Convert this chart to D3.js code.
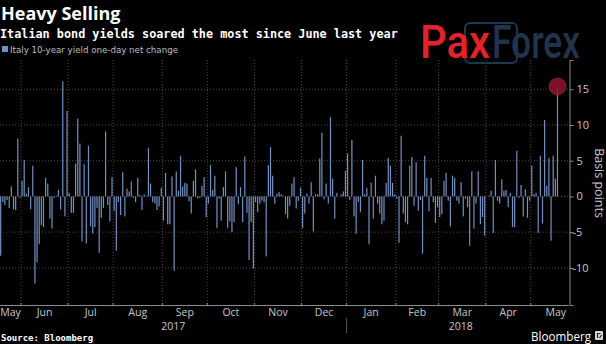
<!DOCTYPE html>
<html><head><meta charset="utf-8">
<script src="https://cdn.jsdelivr.net/npm/d3@7"></script>
<style>
html,body{margin:0;padding:0;background:#000;}
svg{display:block;}
</style></head><body>
<svg id="c" width="606" height="344"></svg>
<script>
// ---- data ----
const startDate = [2017, 4, 18]; // first trading day shown (May 18, 2017), one bar per weekday
const values = [
-8.3,-0.8,-1.2,-0.5,-1.6,1.4,-1.8,-1.9,8.1,-0.2,
2.2,5.1,0.4,1.3,-1.8,4.3,-12.2,-9.2,-6.7,-4.0,
-4.3,2.6,1.8,-3.1,-4.5,-0.2,0.1,0.9,-1.8,16.1,
-2.8,12.0,0.5,-2.3,-2.3,4.6,10.9,7.4,-6.3,4.5,
-6.6,7.1,-4.2,-5.2,-4.3,-1.6,-7.9,-3.0,-1.6,9.1,
-1.2,-3.5,2.7,-2.0,-7.6,-0.8,-2.6,3.4,-2.8,1.1,
0.7,2.1,-0.2,-0.8,2.6,0.2,-1.9,0.3,0.1,6.8,
1.8,-0.8,-1.0,-1.9,-1.4,1.2,-3.4,3.3,-3.9,-3.9,
2.8,-10.4,3.5,0.8,5.7,1.4,1.9,1.8,-0.7,-2.4,
2.2,3.8,-0.3,-0.2,1.5,2.7,-2.9,-1.0,4.4,0.9,
2.9,-4.4,-0.3,-3.4,1.3,3.5,-4.4,-3.5,-5.0,-3.6,
4.1,-1.1,1.3,-3.6,5.6,-2.3,-8.9,-3.6,-10.1,-0.8,
-2.2,-1.0,-0.6,-0.8,-8.4,4.4,6.9,2.9,-1.0,0.4,
0.6,0.3,0.1,-2.5,-3.1,-1.3,1.8,2.7,-1.7,-0.6,
1.2,-4.4,-2.4,0.4,-1.0,2.0,-4.9,0.3,0.3,5.3,
8.9,-0.4,1.8,-1.0,11.1,2.5,-3.1,0.5,0,0.3,
0.7,3.6,6.0,-0.5,7.9,-2.8,-5.2,-0.8,-2.2,5.1,
0.3,1.2,-6.7,1.9,-3.1,2.9,-1.0,-2.4,-3.9,-3.4,
1.9,5.4,4.3,1.9,0.3,-0.3,-6.5,8.5,-2.4,-3.6,
-3.9,4.3,5.5,-1.3,4.8,-2.0,-0.5,-8.0,5.7,2.6,
-2.1,2.6,-0.8,-3.7,-1.5,-2.9,-2.5,2.2,3.3,-0.6,
-4.2,2.9,2.6,-0.6,-1.0,2.0,-2.8,-0.3,-1.5,-6.9,
3.5,-4.5,-1.0,3.5,-3.9,-2.9,-5.5,0,0.1,0.8,
-5.1,5.1,-0.6,-1.0,2.4,0.8,0.9,-1.5,0.5,-4.3,
-4.3,6.4,-0.2,1.6,-2.8,1.0,-3.0,-0.6,4.3,0.3,
0.5,-5.1,5.7,-3.8,10.7,1.5,5.4,-6.2,5.7,2.5,
15.4
];
const monthLabels = ["May","Jun","Jul","Aug","Sep","Oct","Nov","Dec","Jan","Feb","Mar","Apr","May"];
const yearLabels = ["2017","2018"];
const yTicks = [15,10,5,0,-5,-10];
const titleText = "Heavy Selling";
const subtitleText = "Italian bond yields soared the most since June last year";
const legendText = "Italy 10-year yield one-day net change";
const yTitle = "Basis points";
const sourceText = "Source: Bloomberg";

// ---- dates: one per weekday ----
const dates = [];
{
  const d = new Date(startDate[0], startDate[1], startDate[2]);
  while (dates.length < values.length) {
    const wd = d.getDay();
    if (wd !== 0 && wd !== 6) dates.push(new Date(d));
    d.setDate(d.getDate() + 1);
  }
}

const svg = d3.select("#c");
const plot = {left: 0, right: 569, top: 60, bottom: 305};

const x = d3.scaleLinear().domain([-0.306, 265.38]).range([plot.left, plot.right]);
const y = d3.scaleLinear().domain([-15.2, 19.1]).range([plot.bottom, plot.top]);

const BAR = "#7390c0";
const GRID = "#4a4a4a";
const AXIS = "#8c8c8c";
const TXT = "#c8c8c8";

// month boundaries
const bounds = [];
for (let i = 1; i < dates.length; i++) {
  if (dates[i].getMonth() !== dates[i-1].getMonth()) bounds.push(i - 0.5);
}
const yearBound = bounds[monthLabels.indexOf("Jan") - 1];

// grid
const g = svg.append("g");
g.selectAll("line.hg").data(yTicks).join("line")
  .attr("x1", plot.left).attr("x2", plot.right)
  .attr("y1", d => y(d)).attr("y2", d => y(d))
  .attr("stroke", GRID).attr("stroke-width", 1).attr("stroke-dasharray", "1,2");
g.selectAll("line.vg").data(bounds).join("line")
  .attr("x1", d => x(d)).attr("x2", d => x(d))
  .attr("y1", plot.top).attr("y2", plot.bottom)
  .attr("stroke", GRID).attr("stroke-width", 1).attr("stroke-dasharray", "1,2");

// bars
svg.append("g").selectAll("rect").data(values).join("rect")
  .attr("x", (d, i) => x(i) - 0.6)
  .attr("width", 1.2)
  .attr("y", d => y(Math.max(0, d)))
  .attr("height", d => Math.abs(y(d) - y(0)))
  .attr("fill", BAR);

// highlight circle on last bar
const li = values.length - 1;
svg.append("circle")
  .attr("cx", x(li)).attr("cy", y(values[li]))
  .attr("r", 8.3)
  .attr("fill", "#8a1329").attr("fill-opacity", 0.9)
  .attr("stroke", "#a8213a").attr("stroke-width", 0.8);

// x axis
svg.append("line").attr("x1", plot.left).attr("x2", plot.right)
  .attr("y1", plot.bottom + 0.5).attr("y2", plot.bottom + 0.5)
  .attr("stroke", AXIS).attr("stroke-width", 1);
svg.append("g").selectAll("line").data(bounds).join("line")
  .attr("x1", d => x(d)).attr("x2", d => x(d))
  .attr("y1", plot.bottom - 2).attr("y2", plot.bottom + 1)
  .attr("stroke", AXIS);

const edges = [plot.left, ...bounds.map(b => x(b)), plot.right];
svg.append("g").selectAll("text").data(monthLabels).join("text")
  .attr("x", (d, i) => i === monthLabels.length - 1 ? 566 : (edges[i] + edges[i+1]) / 2)
  .attr("y", 316)
  .attr("text-anchor", (d, i) => i === monthLabels.length - 1 ? "end" : "middle")
  .attr("font-family", "'Open Sans', 'DejaVu Sans', sans-serif")
  .attr("font-size", 10.5).attr("fill", TXT)
  .text(d => d);

// year labels + separator
const yb = x(yearBound);
svg.append("g").selectAll("text").data(yearLabels).join("text")
  .attr("x", (d, i) => i === 0 ? (plot.left + yb) / 2 : (yb + plot.right) / 2 + 3)
  .attr("y", 330)
  .attr("text-anchor", "middle")
  .attr("font-family", "'Open Sans', 'DejaVu Sans', sans-serif")
  .attr("font-size", 10.5).attr("fill", TXT)
  .text(d => d);
svg.append("line").attr("x1", yb).attr("x2", yb).attr("y1", 318).attr("y2", 333)
  .attr("stroke", "#555").attr("stroke-width", 1);

// y axis (right)
const yAxis = d3.axisRight(y).tickValues(yTicks).tickSize(4).tickPadding(3)
  .tickFormat(d => String(d));
const ya = svg.append("g").attr("transform", `translate(${plot.right + 0.5},0)`).call(yAxis);
ya.select(".domain").attr("stroke", AXIS);
ya.selectAll(".tick line").attr("stroke", AXIS);
ya.selectAll(".tick text")
  .attr("fill", TXT)
  .attr("font-family", "'Open Sans', 'DejaVu Sans', sans-serif")
  .attr("font-size", 11)
  .attr("dx", d => d < 0 ? -4 : 0);

svg.append("text")
  .attr("transform", `translate(594.5,183) rotate(90)`)
  .attr("text-anchor", "middle")
  .attr("font-family", "'Open Sans', 'DejaVu Sans', sans-serif")
  .attr("font-size", 12.5).attr("fill", TXT)
  .text(yTitle);

// titles
svg.append("text").attr("x", 1).attr("y", 20)
  .attr("font-family", "'Open Sans', 'DejaVu Sans', sans-serif")
  .attr("font-weight", 700).attr("font-size", 18).attr("fill", "#fff")
  .text(titleText);
svg.append("text").attr("x", 0).attr("y", 38)
  .attr("font-family", "'DejaVu Sans Mono', 'Liberation Mono', monospace")
  .attr("font-weight", 700).attr("font-size", 11.8).attr("fill", "#fff")
  .text(subtitleText);

// legend
svg.append("rect").attr("x", 2).attr("y", 46).attr("width", 6).attr("height", 6).attr("fill", BAR);
svg.append("text").attr("x", 10).attr("y", 53)
  .attr("font-family", "'DejaVu Sans Condensed', 'Liberation Sans Narrow', 'Roboto', sans-serif")
  .attr("font-size", 9).attr("fill", "#bdbdbd")
  .attr("textLength", 168).attr("lengthAdjust", "spacingAndGlyphs")
  .text(legendText);

// PaxForex watermark
const logo = svg.append("g");
logo.append("rect").attr("x", 465).attr("y", 23).attr("width", 52).attr("height", 40).attr("rx", 5)
  .attr("fill", "none").attr("stroke", "#1f3550").attr("stroke-width", 2);
logo.append("text").attr("x", 420).attr("y", 58)
  .attr("font-family", "Roboto, 'Open Sans', sans-serif").attr("font-weight", 500)
  .attr("font-size", 46).attr("fill", "#e3222a")
  .attr("textLength", 70).attr("lengthAdjust", "spacingAndGlyphs")
  .text("Pax");
logo.append("text").attr("x", 492).attr("y", 58)
  .attr("font-family", "Roboto, 'Open Sans', sans-serif").attr("font-weight", 500)
  .attr("font-size", 46).attr("fill", "#22344d")
  .attr("textLength", 88).attr("lengthAdjust", "spacingAndGlyphs")
  .text("Forex");

// footer
svg.append("text").attr("x", 1).attr("y", 341)
  .attr("font-family", "'DejaVu Sans Mono', 'Liberation Mono', monospace")
  .attr("font-weight", 700).attr("font-size", 9).attr("fill", "#fff")
  .text(sourceText);
svg.append("text").attr("x", 531).attr("y", 341)
  .attr("font-family", "'Open Sans', 'DejaVu Sans', sans-serif")
  .attr("font-size", 12).attr("fill", "#fff")
  .attr("textLength", 60).attr("lengthAdjust", "spacingAndGlyphs")
  .text("Bloomberg");
svg.append("rect").attr("x", 595).attr("y", 331).attr("width", 8).attr("height", 9).attr("rx", 1).attr("fill", "#d8d8d8");
svg.append("path").attr("d", "M597.5,338 L597.5,333.5 L600.5,333.5 M599.5,338 L601.5,335")
  .attr("stroke", "#222").attr("stroke-width", 1.2).attr("fill", "none");
</script>
</body></html>
